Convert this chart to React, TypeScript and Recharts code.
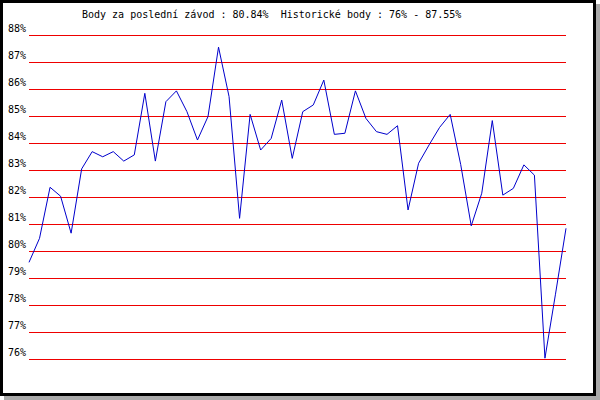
import React from 'react';
import { LineChart, Line, XAxis, YAxis, CartesianGrid, Customized } from 'recharts';

const races: number[] = Array.from({ length: 52 }, (_, i) => i + 1);
const points: number[] = [
  79.58, 80.47, 82.36, 82.03, 80.66, 83.04, 83.68, 83.49, 83.68, 83.33,
  83.56, 85.84, 83.33, 85.53, 85.93, 85.16, 84.11, 84.98, 87.55, 85.72,
  81.21, 85.06, 83.74, 84.17, 85.59, 83.43, 85.16, 85.41, 86.33, 84.32,
  84.36, 85.93, 84.91, 84.42, 84.32, 84.64, 81.52, 83.25, 83.93, 84.58,
  85.06, 83.2, 80.93, 82.14, 84.83, 82.07, 82.32, 83.19, 82.81, 76.03,
  78.4, 80.84,
];
const yTicks: number[] = [76, 77, 78, 79, 80, 81, 82, 83, 84, 85, 86, 87, 88];
const titleText = 'Body za poslední závod : 80.84%  Historické body : 76% - 87.55%';

const data = races.map((r, i) => ({ race: r, value: points[i] }));

const FONT = '"DejaVu Sans Mono", monospace';

const YTick = (props: any) => {
  const { x, y, payload } = props;
  return (
    <text x={x} y={y - 3} textAnchor="end" fontFamily={FONT} fontSize={10} fill="#000">
      {payload.value}%
    </text>
  );
};

const Title = () => (
  <text x={82} y={18} fontFamily={FONT} fontSize={10} fill="#000" style={{ whiteSpace: 'pre' }}>
    {titleText}
  </text>
);

export default function App() {
  return (
    <div style={{ position: 'absolute', left: 0, top: 0, width: 600, height: 400 }}>
      <div
        style={{
          position: 'absolute',
          left: 0,
          top: 0,
          width: 596,
          height: 396,
          boxSizing: 'border-box',
          border: '3px solid #000',
          background: '#fff',
          boxShadow: '4px 4px 0 #aaaaaa',
        }}
      />
      <div style={{ position: 'absolute', left: 0, top: 0 }}>
        <LineChart
          width={596}
          height={396}
          data={data}
          margin={{ top: 35, right: 30, bottom: 37, left: 0 }}
        >
          <CartesianGrid vertical={false} stroke="#ee0000" strokeWidth={1} shapeRendering="crispEdges" />
          <XAxis dataKey="race" hide />
          <YAxis
            width={29}
            domain={[76, 88]}
            ticks={yTicks}
            interval={0}
            tickLine={false}
            axisLine={false}
            tickSize={0}
            tickMargin={3}
            tick={<YTick />}
          />
          <Line
            type="linear"
            dataKey="value"
            stroke="#0000cc"
            strokeWidth={1}
            dot={false}
            isAnimationActive={false}
          />
          <Customized component={Title} />
        </LineChart>
      </div>
    </div>
  );
}
